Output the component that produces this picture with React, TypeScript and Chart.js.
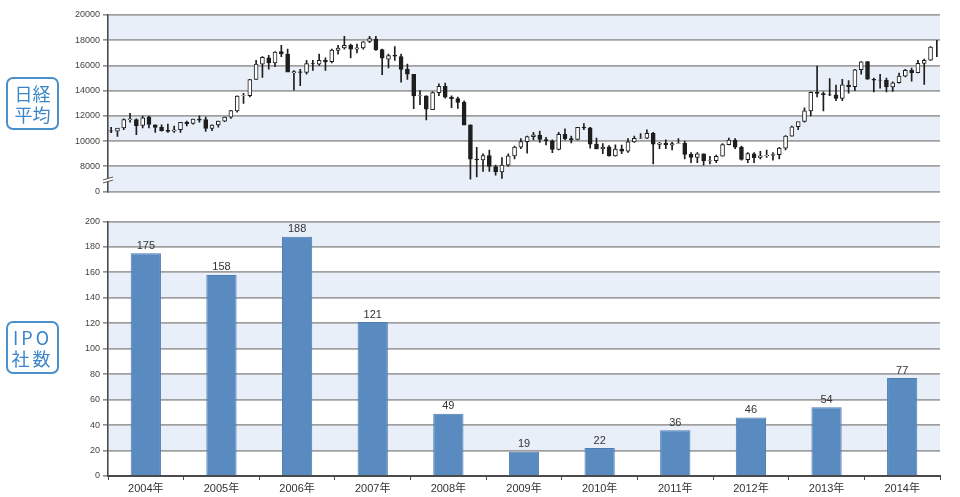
import React, { useEffect, useRef } from "react";
import { Chart, registerables } from "chart.js";

Chart.register(...registerables);

// ---------- Nikkei monthly candles (Jan 2004 – Dec 2014) ----------
const candleYears = ["2004", "2005", "2006", "2007", "2008", "2009", "2010", "2011", "2012", "2013", "2014"];
const candleMonths = ["01", "02", "03", "04", "05", "06", "07", "08", "09", "10", "11", "12"];

const opens = [
  10825, 10800, 11055, 11700, 11700, 11250, 11900, 11300, 11100, 10850, 10800, 10900,
  11500, 11400, 11750, 11700, 11000, 11280, 11580, 11900, 12400, 13600, 13600, 14900,
  16100, 16600, 16200, 17100, 16900, 15400, 15500, 15450, 16150, 16100, 16400, 16300,
  17200, 17400, 17600, 17300, 17400, 17900, 18100, 17250, 16500, 16800, 16700, 15700,
  15300, 13600, 13600, 12500, 13850, 14340, 13480, 13370, 13070, 11300, 8580, 8510,
  8860, 7990, 7570, 8100, 8830, 9520, 9950, 10360, 10490, 10130, 10030, 9340,
  10550, 10200, 10130, 11090, 11050, 9770, 9380, 9540, 8820, 9370, 9200, 9940,
  10230, 10240, 10620, 9750, 9850, 9690, 9820, 9830, 8950, 8700, 8990, 8430,
  8450, 8800, 9720, 10080, 9520, 8540, 9000, 8700, 8840, 8870, 8930, 9450,
  10400, 11140, 11560, 12400, 13860, 13770, 13670, 13670, 13390, 14450, 14320, 15660,
  16300, 14900, 14840, 14830, 14300, 14630, 15160, 15620, 15430, 16170, 16420, 17450,
];
const highs = [
  11103, 11000, 11770, 12195, 11760, 11990, 11990, 11300, 11300, 11350, 11200, 11500,
  11600, 11750, 12000, 11900, 11300, 11600, 11900, 12450, 13600, 13800, 14900, 16400,
  16700, 16800, 17100, 17600, 17300, 15600, 15700, 16400, 16400, 16900, 16600, 17300,
  17600, 18300, 17700, 17700, 17900, 18300, 18300, 17300, 16900, 17500, 16900, 16100,
  15300, 14000, 13600, 13900, 14550, 14600, 13600, 13500, 13200, 11300, 9500, 9000,
  9300, 8100, 8700, 9000, 9600, 10200, 10400, 10700, 10800, 10300, 10100, 10700,
  10980, 10400, 11100, 11400, 11100, 10250, 9800, 9650, 9700, 9690, 10200, 10400,
  10600, 10890, 10700, 9900, 10100, 9900, 10200, 10000, 9100, 9100, 9000, 8800,
  8900, 9800, 10250, 10200, 9600, 9100, 9100, 9200, 9300, 9100, 9500, 10450,
  11200, 11500, 12650, 13900, 15950, 13900, 14950, 14450, 14900, 14800, 15700, 16300,
  16300, 15000, 15300, 15000, 14700, 15400, 15700, 15800, 16400, 16500, 17500, 18000,
];
const lows = [
  10676, 10365, 10900, 11500, 10505, 11050, 11050, 10690, 10800, 10700, 10690, 10700,
  11200, 11350, 11500, 10770, 10825, 11100, 11550, 11800, 12300, 13000, 13500, 14900,
  15050, 15700, 15900, 16700, 15500, 14050, 14400, 15300, 15600, 16000, 15600, 16200,
  16900, 17300, 16600, 17000, 17300, 17800, 17200, 15270, 15800, 16400, 14670, 14900,
  12570, 12900, 11690, 12500, 13600, 13400, 12650, 12600, 11400, 6994, 7160, 7600,
  7600, 7300, 7050, 8000, 8600, 9400, 9050, 10100, 9900, 9700, 9080, 9300,
  10100, 9860, 10100, 10900, 9450, 9380, 9000, 8800, 8800, 9000, 9100, 9900,
  10200, 10200, 8200, 9400, 9400, 9300, 9800, 8600, 8300, 8300, 8100, 8200,
  8300, 8800, 9700, 9400, 8500, 8300, 8300, 8600, 8700, 8500, 8600, 9300,
  10400, 10900, 11500, 12000, 13500, 12400, 13600, 13200, 13200, 13800, 14000, 15300,
  14900, 13900, 14200, 13900, 13950, 14600, 15100, 14750, 15400, 14500, 16400, 16700,
];
const closes = [
  10783, 11041, 11715, 11761, 11236, 11858, 11325, 11081, 10823, 10771, 10899, 11488,
  11387, 11740, 11668, 11008, 11276, 11584, 11899, 12413, 13574, 13606, 14872, 16111,
  16649, 16205, 17059, 16906, 15467, 15505, 15456, 16140, 16127, 16399, 16274, 17225,
  17383, 17604, 17287, 17400, 17875, 18138, 17248, 16569, 16785, 16737, 15680, 15307,
  13592, 13603, 12525, 13849, 14338, 13481, 13376, 13072, 11259, 8576, 8512, 8859,
  7994, 7568, 8109, 8828, 9522, 9958, 10356, 10492, 10133, 10034, 9345, 10546,
  10198, 10126, 11089, 11057, 9768, 9382, 9537, 8824, 9369, 9202, 9937, 10228,
  10237, 10624, 9755, 9849, 9693, 9816, 9833, 8955, 8700, 8988, 8434, 8455,
  8802, 9723, 10083, 9520, 8542, 9006, 8695, 8839, 8870, 8928, 9446, 10395,
  11138, 11559, 12397, 13860, 13774, 13677, 13668, 13388, 14455, 14327, 15661, 16291,
  14914, 14841, 14827, 14304, 14632, 15162, 15620, 15424, 16173, 16413, 17459, 17450,
];

// broken axis: bottom tick sits at 6000 but is labelled "0"
const nikkeiTickValues = [6000, 8000, 10000, 12000, 14000, 16000, 18000, 20000];
const nikkeiTickLabels = ["0", "8000", "10000", "12000", "14000", "16000", "18000", "20000"];

// ---------- IPO counts ----------
const ipoYears = ["2004年", "2005年", "2006年", "2007年", "2008年", "2009年", "2010年", "2011年", "2012年", "2013年", "2014年"];
const ipoCounts = [175, 158, 188, 121, 49, 19, 22, 36, 46, 54, 77];
const ipoTickValues = [0, 20, 40, 60, 80, 100, 120, 140, 160, 180, 200];

const BAND = "#e8eff8";
const GRID = "#a0a0a0";
const AXIS = "#4a4a4a";
const LABEL_FONT = '"Liberation Sans", Arial, "Noto Sans CJK JP", sans-serif';
const BLUE_TEXT = "#3a86c8";

const bandPlugin = {
  id: "bands",
  beforeDraw(chart: any) {
    const { ctx, chartArea: a, scales } = chart;
    const y = scales.y;
    const vals = y.ticks.map((t: any) => t.value).sort((p: number, q: number) => p - q);
    const n = vals.length - 1;
    ctx.save();
    ctx.fillStyle = BAND;
    for (let k = 0; k < n; k++) {
      if ((n - 1 - k) % 2 !== 0) continue;
      const y1 = y.getPixelForValue(vals[k + 1]);
      const y0 = y.getPixelForValue(vals[k]);
      ctx.fillRect(a.left, y1, a.right - a.left, y0 - y1);
    }
    ctx.restore();
  },
};

const breakPlugin = {
  id: "axisBreak",
  afterDraw(chart: any) {
    const { ctx, chartArea: a, scales } = chart;
    const yy = scales.y.getPixelForValue(7000);
    const x = a.left;
    ctx.save();
    ctx.fillStyle = "#ffffff";
    ctx.beginPath();
    ctx.moveTo(x - 5, yy + 1);
    ctx.lineTo(x + 5, yy - 2);
    ctx.lineTo(x + 5, yy + 1);
    ctx.lineTo(x - 5, yy + 4);
    ctx.closePath();
    ctx.fill();
    ctx.strokeStyle = "#555";
    ctx.lineWidth = 1;
    ctx.beginPath();
    ctx.moveTo(x - 5, yy + 1);
    ctx.lineTo(x + 5, yy - 2);
    ctx.moveTo(x - 5, yy + 4);
    ctx.lineTo(x + 5, yy + 1);
    ctx.stroke();
    ctx.restore();
  },
};

const barLabelPlugin = {
  id: "barLabels",
  afterDatasetsDraw(chart: any) {
    const { ctx } = chart;
    const meta = chart.getDatasetMeta(0);
    ctx.save();
    ctx.font = `11px ${LABEL_FONT}`;
    ctx.fillStyle = "#333";
    ctx.textAlign = "center";
    ctx.textBaseline = "bottom";
    meta.data.forEach((el: any, i: number) => {
      ctx.fillText(String(ipoCounts[i]), el.x, el.y - 2);
    });
    ctx.restore();
  },
};

function LabelBox({ top, lines, spacing }: { top: number; lines: string[]; spacing?: string }) {
  return (
    <div
      style={{
        position: "absolute",
        left: 6,
        top,
        width: 49,
        height: 49,
        border: "2px solid #4b8fca",
        borderRadius: 7,
        color: BLUE_TEXT,
        fontFamily: '"Noto Sans CJK JP", "Noto Sans", sans-serif',
        fontSize: 18,
        lineHeight: "21px",
        display: "flex",
        flexDirection: "column",
        alignItems: "center",
        justifyContent: "center",
        letterSpacing: spacing || "0px",
      }}
    >
      {lines.map((l) => (
        <div key={l}>{l}</div>
      ))}
    </div>
  );
}

export default function App() {
  const topRef = useRef<HTMLCanvasElement>(null);
  const botRef = useRef<HTMLCanvasElement>(null);

  useEffect(() => {
    const labels = candleYears.flatMap((y) => candleMonths.map((m) => `${y}/${m}`));
    const bodies = opens.map((o, i) => [o, closes[i]]);
    const wicks = lows.map((l, i) => [l, highs[i]]);
    const bodyColors = opens.map((o, i) => (closes[i] >= o ? "#ffffff" : "#1e1e1e"));

    const top = new Chart(topRef.current as HTMLCanvasElement, {
      type: "bar",
      data: {
        labels,
        datasets: [
          {
            data: bodies as any,
            backgroundColor: bodyColors,
            borderColor: "#1e1e1e",
            borderWidth: 1,
            borderSkipped: false,
            barThickness: 4,
            grouped: false,
            order: 0,
          } as any,
          {
            data: wicks as any,
            backgroundColor: "#1e1e1e",
            borderWidth: 0,
            barThickness: 1,
            grouped: false,
            order: 1,
          } as any,
        ],
      },
      options: {
        animation: false,
        responsive: false,
        maintainAspectRatio: false,
        layout: { padding: { top: 15, right: 20, bottom: 7, left: 0 } },
        plugins: { legend: { display: false }, tooltip: { enabled: false } },
        scales: {
          x: { display: false },
          y: {
            min: 6000,
            max: 20000,
            afterBuildTicks: (s: any) => {
              s.ticks = nikkeiTickValues.map((v) => ({ value: v }));
            },
            afterFit: (s: any) => {
              s.width = 108;
            },
            ticks: {
              callback: (v: any) => nikkeiTickLabels[nikkeiTickValues.indexOf(Number(v))],
              font: { size: 9, family: LABEL_FONT },
              color: "#444",
              padding: 3,
            },
            grid: { color: GRID, lineWidth: 1.8, tickLength: 5, tickColor: AXIS, tickWidth: 1 },
            border: { color: AXIS, width: 1.6 },
          },
        },
      },
      plugins: [bandPlugin, breakPlugin],
    });

    const bot = new Chart(botRef.current as HTMLCanvasElement, {
      type: "bar",
      data: {
        labels: ipoYears,
        datasets: [
          {
            data: ipoCounts,
            backgroundColor: "#5a8bc0",
            borderColor: "#4c7db3",
            borderWidth: 1,
            barPercentage: 0.4,
            categoryPercentage: 1,
          },
        ],
      },
      options: {
        animation: false,
        responsive: false,
        maintainAspectRatio: false,
        layout: { padding: { top: 21.5, right: 20, bottom: 0, left: 0 } },
        plugins: { legend: { display: false }, tooltip: { enabled: false } },
        scales: {
          x: {
            afterFit: (s: any) => {
              s.height = 21;
            },
            ticks: { font: { size: 11, family: LABEL_FONT }, color: "#333", padding: 2 },
            grid: { display: true, drawOnChartArea: false, drawTicks: true, tickLength: 4, color: AXIS, offset: true },
            border: { color: AXIS, width: 2 },
          },
          y: {
            min: 0,
            max: 200,
            afterBuildTicks: (s: any) => {
              s.ticks = ipoTickValues.map((v) => ({ value: v }));
            },
            afterFit: (s: any) => {
              s.width = 108;
            },
            ticks: { font: { size: 9, family: LABEL_FONT }, color: "#444", padding: 3 },
            grid: { color: GRID, lineWidth: 1.8, tickLength: 5, tickColor: AXIS, tickWidth: 1 },
            border: { color: AXIS, width: 1.6 },
          },
        },
      },
      plugins: [bandPlugin, barLabelPlugin],
    });

    return () => {
      top.destroy();
      bot.destroy();
    };
  }, []);

  return (
    <div style={{ position: "absolute", left: 0, top: 0, width: 960, height: 497, background: "#fff", overflow: "hidden" }}>
      <canvas ref={topRef} width={960} height={200} style={{ position: "absolute", left: 0, top: 0, width: 960, height: 200 }} />
      <canvas ref={botRef} width={960} height={297} style={{ position: "absolute", left: 0, top: 200, width: 960, height: 297 }} />
      <LabelBox top={77} lines={["日経", "平均"]} />
      <LabelBox top={321} lines={["IPO", "社数"]} spacing="3px" />
    </div>
  );
}
